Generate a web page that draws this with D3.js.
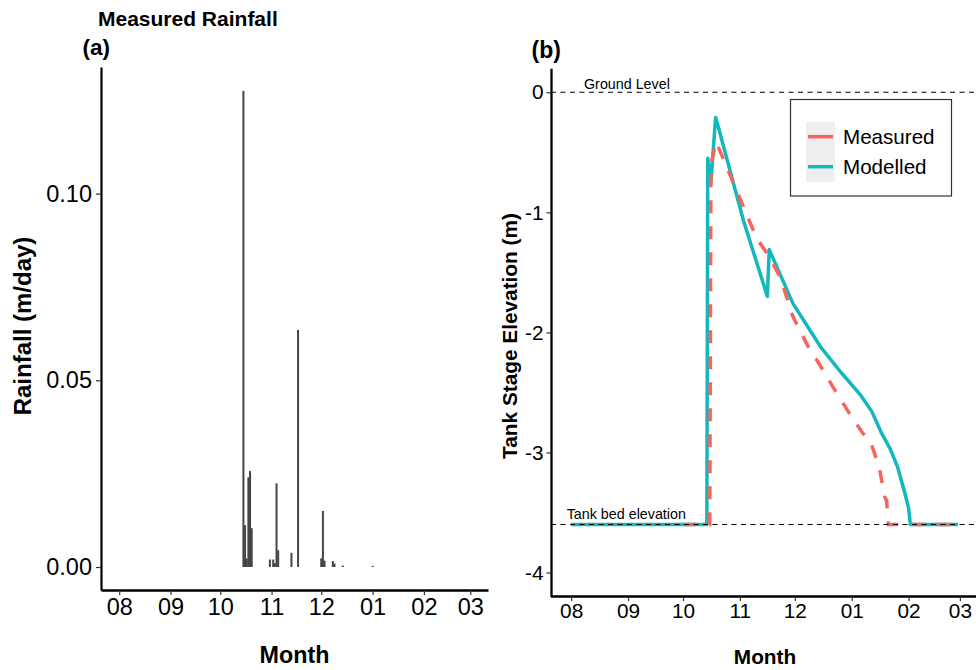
<!DOCTYPE html>
<html><head><meta charset="utf-8">
<script src="https://cdn.jsdelivr.net/npm/d3@7"></script>
<style>
body{margin:0;background:#fff}
svg{display:block}
text{font-family:"Liberation Sans",Arial,Helvetica,sans-serif}
</style>
</head><body>
<svg id="chart" width="976" height="670"></svg>
<script>
// ---------- DATA ----------
const rainDates = ["2018-10-15","2018-10-16","2018-10-17","2018-10-18","2018-10-19","2018-10-20",
  "2018-10-31","2018-11-02","2018-11-03","2018-11-04","2018-11-05","2018-11-13","2018-11-17",
  "2018-12-01","2018-12-02","2018-12-03","2018-12-08","2018-12-09","2018-12-14","2019-01-01"];
const rainValues = [0.1275,0.0112,0.0023,0.0240,0.0257,0.0104,
  0.0020,0.0020,0.0010,0.0224,0.0045,0.0038,0.0635,
  0.0023,0.0150,0.0017,0.0016,0.0009,0.0004,0.0003];

const measuredDates = ["2018-10-01","2018-10-15T14:00","2018-10-16T06:00","2018-10-19T00:00","2018-11-10","2018-11-17",
  "2018-11-23","2018-11-30","2018-12-11","2018-12-13","2018-12-22","2018-12-31","2019-01-07","2019-01-11",
  "2019-01-16","2019-01-19","2019-01-20","2019-01-21","2019-02-28"];
const measuredValues = [-3.6,-3.6,-0.6,-0.41,-1.21,-1.37,-1.54,-1.87,-2.2,-2.23,-2.46,-2.68,-2.84,-2.9,
  -3.12,-3.37,-3.4,-3.6,-3.6];

const modelledDates = ["2018-08-01","2018-10-14T00:00","2018-10-14T12:00","2018-10-16T06:00","2018-10-18T18:00",
  "2018-10-20","2018-11-03","2018-11-16","2018-11-17","2018-11-30","2018-12-15","2018-12-26","2019-01-06",
  "2019-01-12","2019-01-17","2019-01-22","2019-01-26","2019-01-28","2019-01-30","2019-02-01","2019-02-02","2019-02-28"];
const modelledValues = [-3.6,-3.6,-0.55,-0.75,-0.21,-0.275,-1.07,-1.70,-1.31,-1.76,-2.12,-2.33,-2.525,
  -2.66,-2.83,-2.97,-3.12,-3.23,-3.34,-3.46,-3.6,-3.6];

const monthTicks = ["2018-08-01","2018-09-01","2018-10-01","2018-11-01","2018-12-01","2019-01-01","2019-02-01","2019-03-01"];
const rainTicks = [0, 0.05, 0.10];
const stageTicks = [0, -1, -2, -3, -4];
const groundLevel = 0;
const tankBed = -3.6;
const seriesNames = ["Measured","Modelled"];

// ---------- HELPERS ----------
const parse = s => new Date(s.length === 10 ? s + "T00:00:00Z" : s + ":00Z");
const DAY = 864e5;
const aug1 = Date.UTC(2018,7,1);
const xDomain = [new Date(aug1 - 11*DAY), new Date(aug1 + 222.7*DAY)];
const FONT = '"Liberation Sans",Arial,sans-serif';
const svg = d3.select("#chart");

function styleAxis(g, fs, sw){
  g.selectAll(".domain").attr("stroke","#000").attr("stroke-width",sw);
  g.selectAll(".tick line").attr("stroke","#333").attr("stroke-width",1.2);
  g.selectAll(".tick text").attr("fill","#000").style("font-size",fs+"px").style("font-family",FONT);
}

// ---------- PANEL A ----------
const xA = d3.scaleUtc().domain(xDomain).range([101, 488]);
const yA = d3.scaleLinear().domain([-0.00616, 0.1339]).range([590, 67]);
const gA = svg.append("g");
const barW = xA(new Date(aug1 + 1.2*DAY)) - xA(new Date(aug1));
gA.selectAll("rect.bar").data(rainDates.map((d,i)=>({d:parse(d), v:rainValues[i]})))
  .join("rect").attr("class","bar")
  .attr("x", d => xA(d.d) - barW/2)
  .attr("width", barW)
  .attr("y", d => yA(d.v))
  .attr("height", d => yA(0) - yA(d.v))
  .attr("fill","#444");

const axAx = gA.append("g").attr("transform","translate(0,590)")
  .call(d3.axisBottom(xA).tickValues(monthTicks.map(parse)).tickFormat(d3.utcFormat("%m")).tickSize(5).tickPadding(3.5).tickSizeOuter(0));
styleAxis(axAx, 23.5, 2.6);
const axAy = gA.append("g").attr("transform","translate(101,0)")
  .call(d3.axisLeft(yA).tickValues(rainTicks).tickFormat(d3.format(".2f")).tickSize(5).tickPadding(4).tickSizeOuter(0));
styleAxis(axAy, 23.5, 2.2);

svg.append("text").attr("x",98).attr("y",26).style("font-size","21px").style("font-weight","bold").text("Measured Rainfall");
svg.append("text").attr("x",82.5).attr("y",55).style("font-size","22.5px").style("font-weight","bold").text("(a)");
svg.append("text").attr("x",294.5).attr("y",662.5).attr("text-anchor","middle").style("font-size","23.3px").style("font-weight","bold").text("Month");
svg.append("text").attr("transform","translate(31,326) rotate(-90)").attr("text-anchor","middle").style("font-size","24px").style("font-weight","bold").text("Rainfall (m/day)");

// ---------- PANEL B ----------
const xB = d3.scaleUtc().domain(xDomain).range([551, 979.5]);
const yB = d3.scaleLinear().domain([-4.2, 0.2]).range([596.5, 68.3]);
const gB = svg.append("g");
const line = d3.line().x(d => xB(d.d)).y(d => yB(d.v));
const modelled = modelledDates.map((d,i)=>({d:parse(d), v:modelledValues[i]}));
const measured = measuredDates.map((d,i)=>({d:parse(d), v:measuredValues[i]}));
const colors = {Measured:"#F5655E", Modelled:"#13B8BD"};

gB.append("path").datum(modelled).attr("d", line).attr("fill","none")
  .attr("stroke", colors.Modelled).attr("stroke-width",3.5).attr("stroke-linejoin","round");
gB.append("path").datum(measured).attr("d", line).attr("fill","none")
  .attr("stroke", colors.Measured).attr("stroke-width",3.5).attr("stroke-dasharray","13,13");

[groundLevel, tankBed].forEach(v => {
  gB.append("line").attr("x1",551).attr("x2",976).attr("y1",yB(v)).attr("y2",yB(v))
    .attr("stroke","#000").attr("stroke-width",1.1).attr("stroke-dasharray","5,4.5");
});
gB.append("text").attr("x",584).attr("y",89.3).style("font-size","14.3px").text("Ground Level");
gB.append("text").attr("x",566.7).attr("y",519).style("font-size","14.3px").text("Tank bed elevation");

const axBx = gB.append("g").attr("transform","translate(0,596.5)")
  .call(d3.axisBottom(xB).tickValues(monthTicks.map(parse)).tickFormat(d3.utcFormat("%m")).tickSize(4.5).tickPadding(2.5).tickSizeOuter(0));
styleAxis(axBx, 20.8, 2.3);
axBx.select(".domain").attr("d", "M551,0H976");
const axBy = gB.append("g").attr("transform","translate(551,0)")
  .call(d3.axisLeft(yB).tickValues(stageTicks).tickFormat(d3.format("d")).tickSize(4.5).tickPadding(3).tickSizeOuter(0));
styleAxis(axBy, 20.8, 2.3);
axBy.selectAll(".tick text").text(d => String(d));

svg.append("text").attr("x",531.5).attr("y",58.3).style("font-size","23px").style("font-weight","bold").text("(b)");
svg.append("text").attr("x",765).attr("y",664.3).attr("text-anchor","middle").style("font-size","20.8px").style("font-weight","bold").text("Month");
svg.append("text").attr("transform","translate(517,336) rotate(-90)").attr("text-anchor","middle").style("font-size","20.8px").style("font-weight","bold").text("Tank Stage Elevation (m)");

// Legend
const lg = svg.append("g");
lg.append("rect").attr("x",790.5).attr("y",99.5).attr("width",161).attr("height",96.5)
  .attr("fill","#fff").attr("stroke","#333").attr("stroke-width",1.2);
lg.append("rect").attr("x",806).attr("y",121.7).attr("width",29).attr("height",60).attr("fill","#EFEFEF");
seriesNames.forEach((n,i) => {
  const y = 136.7 + i*30;
  lg.append("line").attr("x1",808).attr("x2",833).attr("y1",y).attr("y2",y)
    .attr("stroke",colors[n]).attr("stroke-width",3.5);
  lg.append("text").attr("x",843).attr("y",y+7.3).style("font-size","20.6px").text(n);
});
</script>
</body></html>
